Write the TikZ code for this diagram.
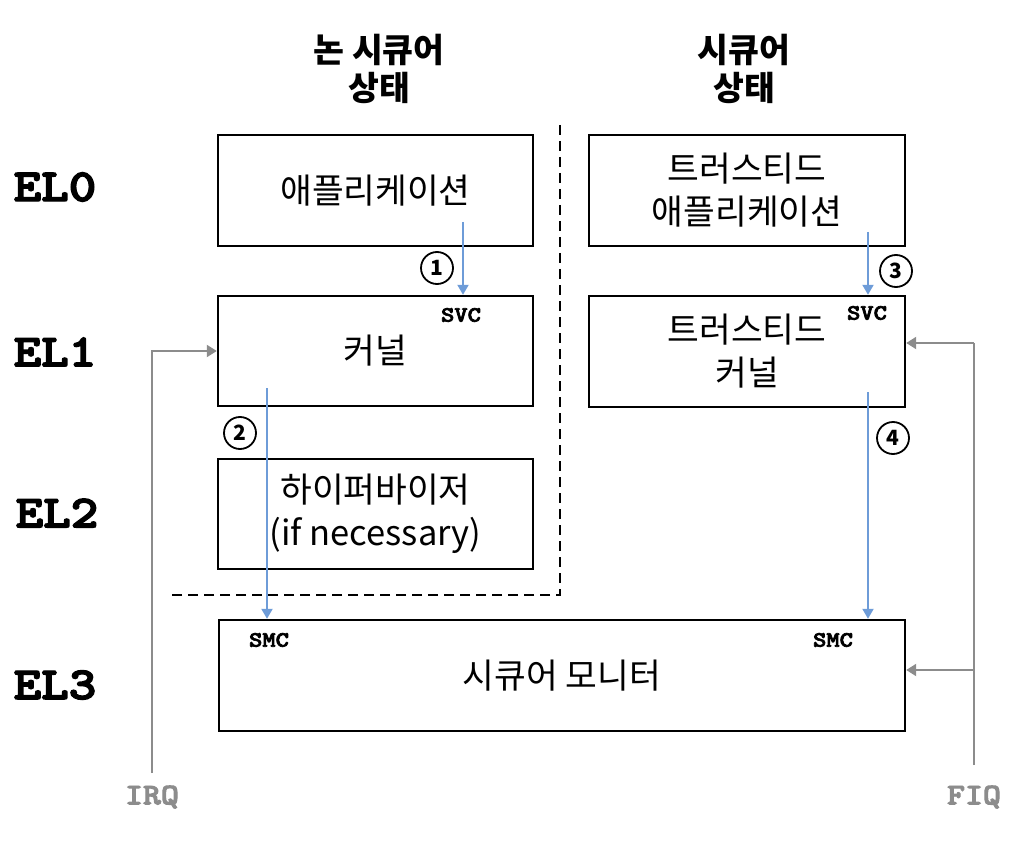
\documentclass[tikz,border=0pt]{standalone}
\usepackage{fontspec}
\newfontfamily\kr{Noto Sans CJK KR}
\newfontfamily\monob{lmmonolt10-bold.otf}[FakeBold=3]
\usetikzlibrary{arrows.meta}
\definecolor{arrblue}{HTML}{6E9CD8}
\definecolor{arrgray}{HTML}{8C8C8C}
\begin{document}
\begin{tikzpicture}[x=1pt,y=-1pt,
  box/.style={draw, line width=2.4pt, inner sep=0pt, align=center, font=\kr\fontsize{34.5}{43}\selectfont},
  head/.style={align=center, font=\kr\bfseries\fontsize{33.5}{38}\selectfont},
  ellab/.style={transform shape, xscale=1.14, font=\monob\fontsize{46}{46}\selectfont},
  tag/.style={inner sep=0pt, transform shape, xscale=1.15, font=\monob\fontsize{22}{22}\selectfont},
  num/.style={circle, draw, line width=1.8pt, minimum size=32pt, inner sep=0pt, font=\kr\bfseries\fontsize{21}{21}\selectfont},
  intlab/.style={text=arrgray, transform shape, xscale=1.14, font=\monob\fontsize{30}{30}\selectfont},
  bluearr/.style={draw=arrblue, line width=2pt, -{Triangle[length=10pt,width=11pt]}},
  grayarr/.style={draw=arrgray, line width=2pt, -{Triangle[length=10pt,width=12pt]}},
  grayline/.style={draw=arrgray, line width=2pt},
  divider/.style={draw, line width=2.4pt, dash pattern=on 10pt off 6pt}]
\useasboundingbox (0,0) rectangle (1014,842);
% headings
\node[head] (hns) at (379,69) {논 시큐어\\상태};
\node[head] (hs) at (744,69) {시큐어\\상태};
% EL labels
\node[ellab] (el0) at (55,187) {EL0};
\node[ellab] (el1) at (55,352) {EL1};
\node[ellab] (el2) at (57,513) {EL2};
\node[ellab] (el3) at (55,685) {EL3};
% boxes
\node[box, minimum width=315pt, minimum height=111pt] (app) at (375.5,190.5) {애플리케이션};
\node[box, minimum width=315pt, minimum height=110pt] (kernel) at (375.5,351) {커널};
\node[box, minimum width=315pt, minimum height=110pt] (hyp) at (375.5,514) {하이퍼바이저\\(if necessary)};
\node[box, minimum width=316pt, minimum height=111pt] (tapp) at (747,190.5) {트러스티드\\애플리케이션};
\node[box, minimum width=316pt, minimum height=111pt] (tkern) at (747,351.5) {트러스티드\\커널};
\node[box, minimum width=686pt, minimum height=111pt] (mon) at (562,675.5) {시큐어 모니터};
% tags
\node[tag] (svc1) at (461,315) {SVC};
\node[tag] (svc2) at (867,313) {SVC};
\node[tag] (smc1) at (269,640) {SMC};
\node[tag] (smc2) at (833,640) {SMC};
% dashed divider
\coordinate (dtop) at (560,125);
\coordinate (dcorner) at (560,595);
\coordinate (dleft) at (172,595);
\draw[divider] (dtop) -- (dcorner) -- (dleft);
% blue arrows
\coordinate (a1) at (463,222);
\coordinate (a2) at (267,388);
\coordinate (a3) at (868,232);
\coordinate (a4) at (868,392);
\draw[bluearr] (a1) -- (a1 |- kernel.north);
\draw[bluearr] (a2) -- (a2 |- mon.north);
\draw[bluearr] (a3) -- (a3 |- tkern.north);
\draw[bluearr] (a4) -- (a4 |- mon.north);
% step numbers
\node[num] (n1) at (437,268) {1};
\node[num] (n2) at (240,433) {2};
\node[num] (n3) at (896,271) {3};
\node[num] (n4) at (893,438) {4};
% interrupts
\node[intlab] (irq) at (152,797) {IRQ};
\node[intlab] (fiq) at (974,797) {FIQ};
\coordinate (irqbot) at (152,773);
\draw[grayarr] (irqbot) |- (kernel.west);
\coordinate (fiqbot) at (974,765);
\coordinate (fiqtop) at (974,343);
\coordinate (fiqmid) at (974,670);
\draw[grayline] (fiqbot) -- (fiqtop);
\draw[grayarr] (fiqtop) -- (fiqtop -| tkern.east);
\draw[grayarr] (fiqmid) -- (fiqmid -| mon.east);
\end{tikzpicture}
\end{document}
